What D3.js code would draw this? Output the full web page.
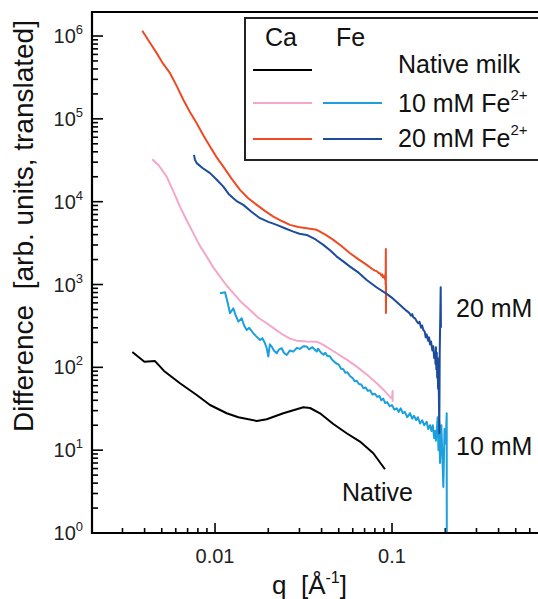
<!DOCTYPE html>
<html>
<head>
<meta charset="utf-8">
<script src="https://cdn.jsdelivr.net/npm/d3@7.9.0/dist/d3.min.js"></script>
<style>
  body { margin: 0; background: #fff; }
  svg { display: block; font-family: "Liberation Sans", Arial, sans-serif; }
  svg text { white-space: pre; }
</style>
</head>
<body>
<svg id="chart" width="538" height="599"></svg>
<script>
// [q, difference] pairs
const nativeMilk = [
  [0.00341, 153], [0.00399, 117], [0.00458, 119], [0.00515, 90.5], [0.00634, 64.3],
  [0.00788, 46.4], [0.00937, 35.1], [0.01164, 27.9], [0.01355, 25.0], [0.01722, 22.5],
  [0.01959, 23.6], [0.02432, 27.9], [0.03155, 33.0], [0.03442, 32.3], [0.03917, 27.9],
  [0.04659, 20.7], [0.05543, 16.0], [0.06592, 12.7], [0.07839, 9.18], [0.09124, 5.88]
];
const ca10 = [
  [0.00442, 32600], [0.00480, 27500], [0.00533, 20100], [0.00580, 13500], [0.00634, 8730],
  [0.00690, 6000], [0.00754, 4170], [0.00820, 2950], [0.00898, 2170], [0.00980, 1600],
  [0.01067, 1245], [0.01160, 980], [0.01269, 785], [0.01410, 610], [0.01577, 493],
  [0.01750, 400], [0.01959, 341], [0.02200, 285], [0.02432, 246], [0.02650, 222],
  [0.02895, 210], [0.03300, 205], [0.03755, 204], [0.04093, 186.6], [0.04870, 148],
  [0.05600, 122], [0.06320, 102], [0.07200, 82], [0.08198, 64.3], [0.09000, 53],
  [0.09743, 43.9], [0.1000, 42], [0.1008, 51.7], [0.1008, 38.4]
];
const ca20 = [
  [0.00388, 1156000], [0.00420, 890000], [0.00468, 621000], [0.00510, 460000], [0.00557, 356000],
  [0.00610, 245000], [0.00662, 170000], [0.00720, 122000], [0.00788, 88700], [0.00860, 63000],
  [0.00937, 46300], [0.01020, 34500], [0.01114, 26500], [0.01240, 19000], [0.01384, 13900],
  [0.01540, 11000], [0.01722, 9150], [0.01920, 7700], [0.02135, 6610], [0.02400, 5800],
  [0.02653, 5250], [0.02950, 4950], [0.03297, 4790], [0.03755, 4570], [0.04200, 4000],
  [0.04661, 3456], [0.05200, 2900], [0.05790, 2388], [0.06500, 2000], [0.07196, 1726],
  [0.07800, 1520], [0.08000, 1470], [0.08200, 1450], [0.08400, 1380], [0.08550, 1368],
  [0.08700, 1290], [0.08800, 1330], [0.08900, 1220], [0.09000, 1260], [0.09131, 1160],
  [0.09180, 1350], [0.09200, 1000], [0.09230, 2690], [0.09240, 454], [0.09260, 1000]
];
const fe10 = [
  [0.01067, 785], [0.01139, 807], [0.01180, 600], [0.01215, 450], [0.01269, 517],
  [0.01310, 420], [0.01355, 356], [0.01415, 392], [0.01460, 320], [0.01510, 283],
  [0.01560, 300], [0.01646, 258], [0.01700, 240], [0.01796, 214], [0.01850, 225],
  [0.01916, 195], [0.01960, 170], [0.02000, 135], [0.02040, 190], [0.02090, 178],
  [0.02150, 160], [0.02232, 148], [0.02300, 165], [0.02381, 170], [0.02450, 150],
  [0.02542, 141], [0.02650, 160], [0.02770, 155], [0.02900, 172], [0.03021, 167],
  [0.03150, 180], [0.03297, 178], [0.03400, 165], [0.03550, 175], [0.03755, 155],
  [0.03820, 168], [0.03900, 158], [0.03980, 150], [0.04100, 142], [0.04200, 150],
  [0.04300, 138], [0.04464, 135], [0.04580, 124], [0.04700, 118], [0.04820, 112],
  [0.05000, 108], [0.05150, 96], [0.05308, 95], [0.05450, 86], [0.05600, 87],
  [0.05800, 78], [0.06000, 74], [0.06150, 68], [0.06320, 69], [0.06500, 63],
  [0.06700, 62], [0.06900, 56], [0.07100, 57], [0.07300, 52], [0.07512, 53],
  [0.07750, 47], [0.08000, 48], [0.08250, 44], [0.08500, 45], [0.08700, 40],
  [0.08928, 42], [0.09150, 37], [0.09400, 38], [0.09700, 34], [0.1000, 35],
  [0.1030, 31], [0.1063, 32], [0.1090, 29], [0.1120, 32], [0.1150, 28],
  [0.1180, 29], [0.1220, 25], [0.1264, 28], [0.1300, 24], [0.1330, 26],
  [0.1370, 23], [0.1400, 25], [0.1440, 21], [0.1480, 23], [0.1520, 20],
  [0.1570, 22], [0.1600, 18], [0.1640, 20], [0.1670, 17], [0.1700, 20],
  [0.1730, 14], [0.1750, 17], [0.1770, 13], [0.1789, 17], [0.1810, 25],
  [0.1830, 10], [0.1850, 22], [0.1867, 7], [0.1900, 20], [0.1950, 3.6],
  [0.1980, 18], [0.2010, 12], [0.2037, 27.9], [0.2040, 0.5]
];
const fe20 = [
  [0.00761, 36700], [0.00770, 32000], [0.00788, 29200], [0.00850, 25500], [0.00937, 22100],
  [0.01020, 18500], [0.01114, 15200], [0.01190, 12500], [0.01269, 11000], [0.01340, 10000],
  [0.01445, 9150], [0.01600, 7600], [0.01796, 6320], [0.02000, 5700], [0.02232, 5250],
  [0.02500, 4750], [0.02770, 4355], [0.03000, 4100], [0.03297, 3972], [0.03700, 3500],
  [0.04092, 3008], [0.04500, 2550], [0.04870, 2173], [0.05300, 1900], [0.05790, 1645],
  [0.06500, 1380], [0.07196, 1136], [0.08200, 920], [0.09335, 770], [0.1010, 680],
  [0.1110, 567], [0.1210, 480], [0.1250, 455], [0.1280, 420], [0.1300, 440],
  [0.1319, 401], [0.1350, 390], [0.1380, 360], [0.1410, 340], [0.1430, 355],
  [0.1460, 300], [0.1480, 320], [0.1502, 283], [0.1530, 270], [0.1550, 230],
  [0.1570, 250], [0.1600, 210], [0.1620, 230], [0.1639, 190], [0.1660, 205],
  [0.1690, 160], [0.1710, 180], [0.1730, 130], [0.1750, 150], [0.1760, 110],
  [0.1770, 175], [0.1780, 95], [0.1790, 150], [0.1800, 75], [0.1810, 130],
  [0.1820, 55], [0.1830, 95], [0.1840, 45], [0.1850, 16], [0.1860, 150],
  [0.1884, 927], [0.1890, 300]
];

const yMajor = [1, 10, 100, 1000, 10000, 100000, 1000000];
const yExponents = ["0", "1", "2", "3", "4", "5", "6"];
const xMajor = [0.01, 0.1];
const xLabels = ["0.01", "0.1"];

const colors = {
  native: "#000000",
  ca10: "#f4a7c9",
  ca20: "#ee4b25",
  fe10: "#1c9fdc",
  fe20: "#1d4c9c"
};

const svg = d3.select("#chart");
const plotLeft = 92, plotRight = 538, plotTop = 12, plotBottom = 533;

const x = d3.scaleLog().domain([0.002018, 0.668]).range([plotLeft, plotRight]);
const y = d3.scaleLog().domain([1, Math.pow(10, 6.29)]).range([plotBottom, plotTop]);

svg.append("clipPath").attr("id", "plot-clip")
  .append("rect")
  .attr("x", plotLeft).attr("y", plotTop)
  .attr("width", plotRight - plotLeft).attr("height", plotBottom - plotTop);

// minor ticks
let xMinor = [];
for (let k = -3; k <= 0; k++) {
  for (let m = 2; m <= 9; m++) {
    let v = m * Math.pow(10, k);
    if (v > x.domain()[0] && v < x.domain()[1]) xMinor.push(v);
  }
}
let yMinor = [];
for (let k = 0; k <= 6; k++) {
  for (let m = 2; m <= 9; m++) {
    let v = m * Math.pow(10, k);
    if (v < y.domain()[1]) yMinor.push(v);
  }
}

let ticks = svg.append("g").attr("stroke", "#000").attr("stroke-width", 1.6);
ticks.selectAll(".xminor").data(xMinor).enter().append("line")
  .attr("x1", d => x(d)).attr("x2", d => x(d))
  .attr("y1", plotBottom).attr("y2", plotBottom - 5);
ticks.selectAll(".xmajor").data(xMajor).enter().append("line")
  .attr("x1", d => x(d)).attr("x2", d => x(d))
  .attr("y1", plotBottom).attr("y2", plotBottom - 10);
ticks.selectAll(".yminor").data(yMinor).enter().append("line")
  .attr("x1", plotLeft).attr("x2", plotLeft + 6)
  .attr("y1", d => y(d)).attr("y2", d => y(d));
ticks.selectAll(".ymajor").data(yMajor).enter().append("line")
  .attr("x1", plotLeft).attr("x2", plotLeft + 11)
  .attr("y1", d => y(d)).attr("y2", d => y(d));

// curves
const line = d3.line().x(d => x(d[0])).y(d => y(Math.max(d[1], 0.3)));
const series = [
  [nativeMilk, colors.native],
  [ca10, colors.ca10],
  [fe10, colors.fe10],
  [ca20, colors.ca20],
  [fe20, colors.fe20]
];
svg.append("g").attr("clip-path", "url(#plot-clip)")
  .selectAll("path").data(series).enter().append("path")
  .attr("d", d => line(d[0]))
  .attr("fill", "none")
  .attr("stroke", d => d[1])
  .attr("stroke-width", 2)
  .attr("stroke-linejoin", "round");

// frame
svg.append("path")
  .attr("d", `M${plotRight},${plotTop}H${plotLeft}V${plotBottom}H${plotRight}`)
  .attr("fill", "none").attr("stroke", "#000").attr("stroke-width", 2.2);

// tick labels
let yl = svg.append("g").attr("font-size", 20).attr("fill", "#222");
yMajor.forEach((v, i) => {
  let t = yl.append("text").attr("x", 83).attr("y", y(v) + 7).attr("text-anchor", "end");
  t.append("tspan").text("10");
  t.append("tspan").attr("dy", -9).attr("font-size", 13).text(yExponents[i]);
});
svg.append("g").attr("font-size", 20).attr("fill", "#222")
  .selectAll("text").data(xMajor).enter().append("text")
  .attr("x", d => x(d)).attr("y", 563).attr("text-anchor", "middle")
  .text((d, i) => xLabels[i]);

// axis titles
let xt = svg.append("text").attr("x", 272).attr("y", 594).attr("font-size", 26).attr("fill", "#111");
xt.append("tspan").text("q  [Å");
xt.append("tspan").attr("dy", -11).attr("font-size", 16).text("-1");
xt.append("tspan").attr("dy", 11).text("]");

svg.append("text")
  .attr("transform", "translate(33,226) rotate(-90)")
  .attr("text-anchor", "middle").attr("font-size", 28).attr("fill", "#111")
  .text("Difference  [arb. units, translated]");

// annotations
let ann = svg.append("g").attr("font-size", 25).attr("fill", "#111");
ann.append("text").attr("x", 456).attr("y", 317).text("20 mM");
ann.append("text").attr("x", 456).attr("y", 455).text("10 mM");
ann.append("text").attr("x", 342).attr("y", 501).text("Native");

// legend
let lg = svg.append("g");
lg.append("rect").attr("x", 245).attr("y", 18).attr("width", 300).attr("height", 142)
  .attr("fill", "#fff").attr("stroke", "#222").attr("stroke-width", 2);
let lt = lg.append("g").attr("font-size", 25).attr("fill", "#111");
lt.append("text").attr("x", 265).attr("y", 46).text("Ca");
lt.append("text").attr("x", 336).attr("y", 46).text("Fe");
lt.append("text").attr("x", 398).attr("y", 73).text("Native milk");
const legendRows = [
  { y: 103, ca: colors.ca10, fe: colors.fe10, label: "10 mM Fe", base: 112 },
  { y: 139, ca: colors.ca20, fe: colors.fe20, label: "20 mM Fe", base: 147 }
];
lg.append("line").attr("x1", 253).attr("x2", 312).attr("y1", 70).attr("y2", 70)
  .attr("stroke", colors.native).attr("stroke-width", 2);
legendRows.forEach(r => {
  lg.append("line").attr("x1", 253).attr("x2", 312).attr("y1", r.y).attr("y2", r.y)
    .attr("stroke", r.ca).attr("stroke-width", 2);
  lg.append("line").attr("x1", 323).attr("x2", 382).attr("y1", r.y).attr("y2", r.y)
    .attr("stroke", r.fe).attr("stroke-width", 2);
  let t = lt.append("text").attr("x", 398).attr("y", r.base);
  t.append("tspan").text(r.label);
  t.append("tspan").attr("dy", -12).attr("font-size", 15).text("2+");
});
</script>
</body>
</html>
